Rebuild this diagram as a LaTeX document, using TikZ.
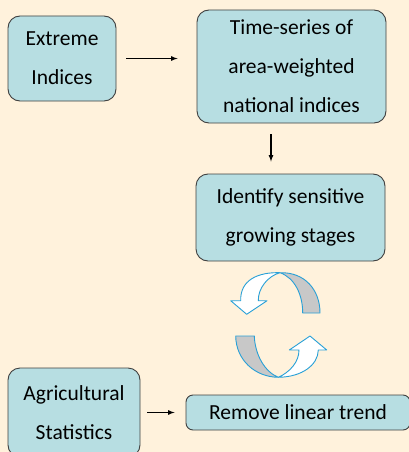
\documentclass[tikz,border=0pt]{standalone}
\usepackage{fontspec}
\setmainfont{Carlito}
\usepackage{tikz}
\usetikzlibrary{calc}
\definecolor{bgcream}{RGB}{255,242,220}
\definecolor{boxblue}{RGB}{183,222,226}
\definecolor{ringblue}{RGB}{40,160,215}
\definecolor{ringgray}{RGB}{200,200,200}

\begin{document}
\begin{tikzpicture}[x=1pt,y=-1pt,>=latex,
		stepbox/.style={draw=black!75,fill=boxblue,rounded corners=12pt,line width=0.9pt,align=center,inner sep=0pt,font=\fontsize{21.5}{39}\selectfont},
		flow/.style={->,line width=1.2pt},
		ring/.style={draw=ringblue,line width=0.9pt,line join=round}]
		\fill[bgcream] (0,0) rectangle (409,452);
		\useasboundingbox (0,0) rectangle (409,452);
		\begin{scope}
		\clip (0,0) rectangle (409,452);
		\node[stepbox,minimum width=108pt,minimum height=85pt] (ext) at (62,58.5) {Extreme\\Indices};
		\node[stepbox,minimum width=189pt,minimum height=113pt] (ts) at (291.5,66.5) {Time-series of\\area-weighted\\national indices};
		\node[stepbox,minimum width=189pt,minimum height=87pt] (ident) at (290.5,217.5) {Identify sensitive\\growing stages};
		\node[stepbox,minimum width=132pt,minimum height=89pt] (agri) at (74,412.5) {Agricultural\\Statistics};
		\node[stepbox,rounded corners=7pt,minimum width=224pt,minimum height=35pt] (trend) at (298,412.5) {Remove linear trend};
		\end{scope}
		\draw[flow,shorten <=10pt,shorten >=19pt] (ext.east) -- (ext.east -| ts.west);
		\draw[flow,shorten <=11pt,shorten >=12pt] ([xshift=-20.5pt]ts.south) -- ([xshift=-20.5pt]ts.south |- ident.north);
		\draw[flow,shorten <=7pt,shorten >=11pt] (agri.east |- trend.west) -- (trend.west);
		\filldraw[ring,fill=ringgray] (280,272.7) .. controls (305,272) and (320,290) .. (320,313) -- (302.7,313) .. controls (302.7,295) and (295,278) .. (280,272.7) -- cycle;
		\filldraw[ring,fill=white] (230.7,300.7) -- (246.7,314.3) -- (267,300.7) -- (258.3,300.7) .. controls (258,288) and (268,276) .. (280,272.7) .. controls (258,272) and (240,280) .. (240.7,300.7) -- cycle;
		\filldraw[ring,fill=ringgray] (235.7,336) .. controls (236,360) and (255,377) .. (278.3,377.3) .. controls (265,372) and (255,355) .. (254.3,336) -- cycle;
		\filldraw[ring,fill=white] (326.7,350) -- (310,336) -- (289.3,350) -- (299,350) .. controls (299,362) and (290,372) .. (278.3,377.3) .. controls (302,377) and (318,365) .. (318.3,350) -- cycle;
\end{tikzpicture}
\end{document}
